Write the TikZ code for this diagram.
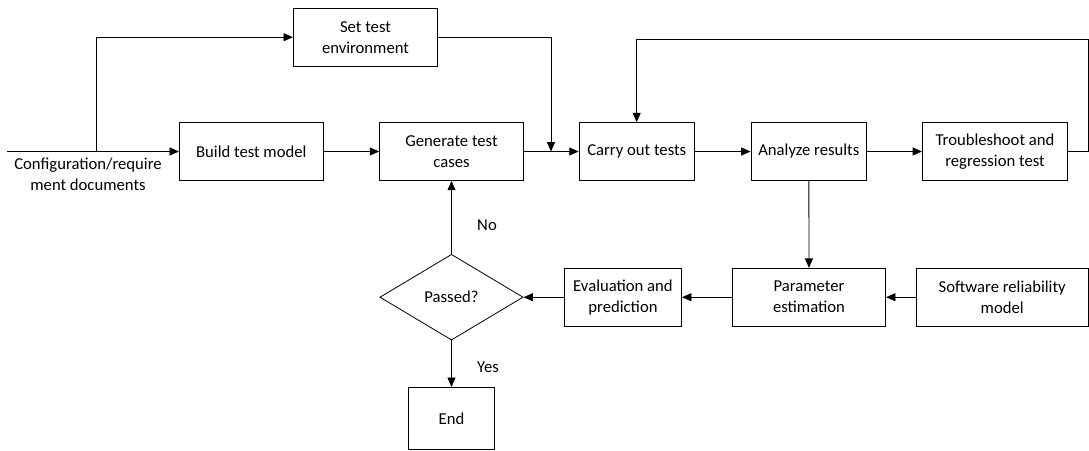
\documentclass[tikz,border=0pt]{standalone}
\usepackage{fontspec}
\setmainfont{Carlito}
\usetikzlibrary{shapes.geometric,arrows.meta}

\begin{document}
\begin{tikzpicture}[x=0.75pt,y=-0.75pt]
        \useasboundingbox (0,0) rectangle (1089,450);
        \begin{scope}[every node/.style={draw,line width=0.6pt,align=center,minimum height=43.5pt,inner sep=1pt,font=\fontsize{12.5}{15.75}\selectfont}]
                \node[minimum width=108.3pt] (SetEnv) at (365.5,37.2) {Set test\\environment};
                \node[minimum width=108pt] (Build) at (251.3,151.5) {Build test model};
                \node[minimum width=108pt] (Gen) at (451.5,151.5) {Generate test\\cases};
                \node[minimum width=86.5pt] (Carry) at (636.7,151.5) {Carry out tests};
                \node[minimum width=86.8pt] (Analyze) at (808.8,151.5) {Analyze results};
                \node[minimum width=109pt] (Trouble) at (995,151.5) {Troubleshoot and\\regression test};

                \node[diamond,aspect=1.67,minimum width=107.5pt,minimum height=64.3pt] (Passed) at (451.5,297.2) {Passed?};
                \node[minimum width=88pt] (Eval) at (623,297.2) {Evaluation and\\prediction};
                \node[minimum width=115pt] (Param) at (809,297.2) {Parameter\\estimation};
                \node[minimum width=128.8pt] (Soft) at (1002.2,297.2) {Software reliability\\model};
                \node[minimum width=64.5pt,minimum height=46.5pt] (End) at (451.5,418.3) {End};
        \end{scope}
        \coordinate (Src) at (7,151.5);
        \coordinate (Fork) at (96.7,151.5);
        \coordinate (Join) at (551,151.5);
        \coordinate (LoopTop) at (1088,39);
        \begin{scope}[every node/.style={inner sep=1pt,align=center,font=\fontsize{12.5}{15.75}\selectfont}, every path/.style={line width=0.6pt, ->, >={Triangle[length=7pt,width=6pt]}}]
                \node (Docs) at (88,174) {Configuration/require\\ment documents};

                \draw (Src) -- (Build);
                \draw (Fork) |- (SetEnv);
                \draw (SetEnv) -| (Join);
                \draw (Build) -- (Gen);
                \draw (Gen) -- (Carry);
                \draw (Carry) -- (Analyze);
                \draw (Analyze) -- (Trouble);
                \draw (Trouble) -| (LoopTop) -| (Carry);

                \draw (Analyze) -- (Param);
                \draw (Soft) -- (Param);
                \draw (Param) -- (Eval);
                \draw (Eval) -- (Passed);
                \draw (Passed) -- node[pos=0.4,right=18pt] {No} (Gen);
                \draw (Passed) -- node[pos=0.57,right=18pt] {Yes} (End);
        \end{scope}
\end{tikzpicture}
\end{document}
